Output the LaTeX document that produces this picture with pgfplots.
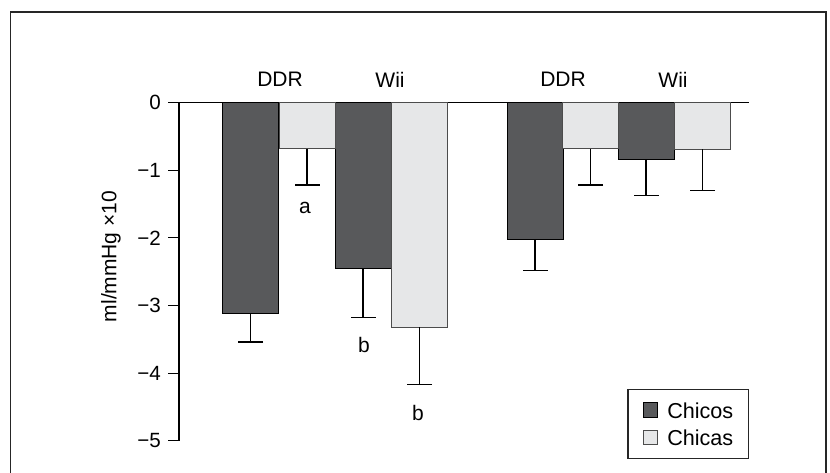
\documentclass[border=0pt]{standalone}
\usepackage{fontspec}
\setmainfont{Liberation Sans}
\usepackage{pgfplots}
\pgfplotsset{compat=1.18}
\definecolor{darkbar}{HTML}{58595B}
\definecolor{lightbar}{HTML}{E6E7E8}
\begin{document}
\begin{tikzpicture}[x=0.5pt,y=0.5pt]
\useasboundingbox (0,0) rectangle (830,472);
\draw[line width=0.7pt, black!85] (10.6,-10) -- (10.6,460) -- (826,460) -- (826,-10);
\node[rotate=90, font=\fontsize{10.5}{12}\selectfont] at (111,215.5) {ml/mmHg ×10};
\begin{axis}[
  at={(179,46)}, anchor=south west, scale only axis,
  width=285pt, height=169.2pt,
  xmin=179, xmax=749, ymin=-5, ymax=0,
  axis x line*=top, axis y line*=left,
  xtick=\empty,
  ytick={-5,-4,-3,-2,-1,0},
  yticklabels={−5,−4,−3,−2,−1,0},
  tick align=outside, major tick length=5.5pt,
  tick style={black, line width=0.6pt},
  axis line style={black, line width=0.6pt},
  yticklabel style={font=\fontsize{10.3}{12}\selectfont},
  clip=false,
  legend cell align=left,
  legend style={at={(axis cs:749,-5.27)}, anchor=south east, draw=black!85, line width=0.7pt,
    font=\fontsize{10.8}{12}\selectfont, inner xsep=7.5pt, inner ysep=6.5pt,
    nodes={inner sep=0pt, text height=7.8pt, text depth=0pt},
    row sep=5.7pt, /tikz/every odd column/.append style={column sep=4.5pt}},
  legend image code/.code={\draw[#1, line width=0.5pt] (0pt,-3.7pt) rectangle (7.2pt,3.7pt);},
]
\addlegendimage{fill=darkbar, draw=black}
\addlegendentry{Chicos}
\addlegendimage{fill=lightbar, draw=black!70}
\addlegendentry{Chicas}
\addplot[ybar, bar width=56, bar shift=0pt, fill=darkbar, draw=black, line width=0.4pt, forget plot,
  error bars/.cd, y dir=minus, y explicit,
  error bar style={black, line width=0.6pt},
  error mark options={rotate=90, mark size=6.25pt, black, line width=0.6pt}]
  coordinates {(250.5,-3.12) +- (0,0.42) (363,-2.45) +- (0,0.73) (535,-2.02) +- (0,0.46) (646,-0.84) +- (0,0.53)};
\addplot[ybar, bar width=56, bar shift=0pt, fill=lightbar, draw=black!70, line width=0.4pt, forget plot,
  error bars/.cd, y dir=minus, y explicit,
  error bar style={black, line width=0.6pt},
  error mark options={rotate=90, mark size=6.25pt, black, line width=0.6pt}]
  coordinates {(307,-0.685) +- (0,0.535) (419.5,-3.32) +- (0,0.85) (590.5,-0.685) +- (0,0.535) (702.5,-0.69) +- (0,0.61)};
\node[font=\fontsize{10.5}{12}\selectfont] at (axis cs:280,0.34) {DDR};
\node[font=\fontsize{10.5}{12}\selectfont] at (axis cs:390,0.34) {Wii};
\node[font=\fontsize{10.5}{12}\selectfont] at (axis cs:563,0.34) {DDR};
\node[font=\fontsize{10.5}{12}\selectfont] at (axis cs:673,0.34) {Wii};
\node[font=\fontsize{10.5}{12}\selectfont] at (axis cs:305,-1.556) {a};
\node[font=\fontsize{10.5}{12}\selectfont] at (axis cs:364,-3.58) {b};
\node[font=\fontsize{10.5}{12}\selectfont] at (axis cs:418,-4.585) {b};
\end{axis}
\end{tikzpicture}
\end{document}
